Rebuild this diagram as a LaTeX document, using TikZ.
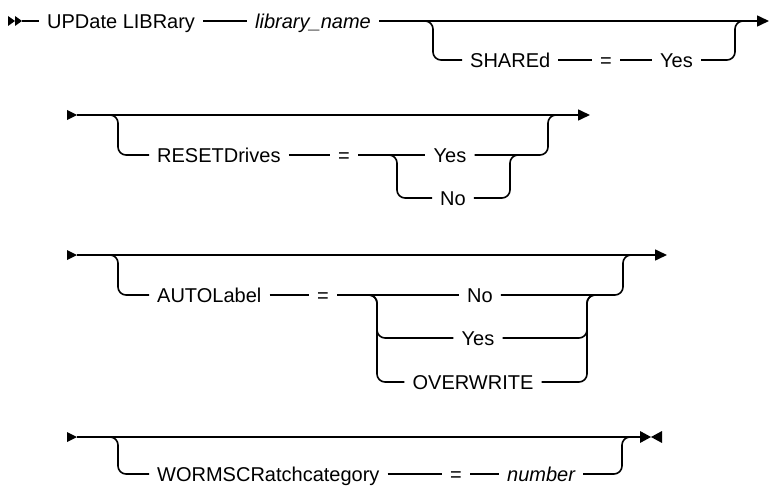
\documentclass[tikz,border=0pt]{standalone}
\usepackage{fontspec}
\setmainfont{Liberation Sans}
\usepackage{xcolor}
\usetikzlibrary{arrows.meta, positioning, calc}

\tikzset{
  kw/.style={font=\fontsize{20}{24}\selectfont, inner xsep=8pt, inner ysep=0pt,
             text height=14.5pt, text depth=0pt, anchor=west},
  var/.style={kw, font=\fontsize{20}{24}\selectfont\itshape},
  rail/.style={line width=1.6pt, rounded corners=8pt},
  cont/.style={-{Triangle[length=12pt,width=11pt]}}
}

\begin{document}
\begin{tikzpicture}[x=1pt, y=-1pt]
  \useasboundingbox (0,0) rectangle (769,487);

  % --- Row 1: UPDate LIBRary ---
  \fill (8,16) -- (15,21) -- (8,26) -- cycle;
  \fill (15,16) -- (22,21) -- (15,26) -- cycle;
  \coordinate (st1) at (22,21);
  \node[kw]  (upd)    at (39,21)  {UPDate LIBRary};
  \node[var] (lib)    at (247,21) {library\_name};
  \node[kw]  (shared) at (462,60) {SHAREd};
  \node[kw]  (eq1)    at (592,60) {=};
  \node[kw]  (yes1)   at (652,60) {Yes};
  \coordinate (b1)   at (423,21);
  \coordinate (r1)   at (735,21);
  \coordinate (end1) at (769,21);
  \draw[rail] (st1) -- (upd.west);
  \draw[rail] (upd.east) -- (lib.west);
  \draw[rail, cont] (lib.east) -- (end1);
  \draw[rail] (b1) -- ++(10,0) |- (shared.west);
  \draw[rail] (shared.east) -- (eq1.west);
  \draw[rail] (eq1.east) -- (yes1.west);
  \draw[rail] (yes1.east) -| (r1) -- ++(10,0);

  % --- Row 2: RESETDrives ---
  \fill (67,110) -- (77,115) -- (67,120) -- cycle;
  \coordinate (st2)  at (77,115);
  \coordinate (end2) at (590,115);
  \node[kw] (reset) at (149,155) {RESETDrives};
  \node[kw] (eq2)   at (330,155) {=};
  \node[kw, anchor=center] (yes2) at (450,155) {Yes};
  \node[kw, anchor=center] (no2)  at (453,198) {No};
  \coordinate (b2)  at (108,115);
  \coordinate (b2a) at (387,155);
  \coordinate (r2a) at (510,155);
  \coordinate (r2)  at (548,115);
  \draw[rail, cont] (st2) -- (end2);
  \draw[rail] (b2) -- ++(10,0) |- (reset.west);
  \draw[rail] (reset.east) -- (eq2.west);
  \draw[rail] (eq2.east) -- (yes2.west);
  \draw[rail] (b2a) -- ++(10,0) |- (no2.west);
  \draw[rail] (no2.east) -| (r2a) -- ++(10,0);
  \draw[rail] (yes2.east) -| (r2) -- ++(10,0);

  % --- Row 3: AUTOLabel ---
  \fill (67,250) -- (77,255) -- (67,260) -- cycle;
  \coordinate (st3)  at (77,255);
  \coordinate (end3) at (667,255);
  \node[kw] (auto) at (149,295) {AUTOLabel};
  \node[kw] (eq3)  at (309,295) {=};
  \node[kw, anchor=center] (no3)   at (480,295) {No};
  \node[kw, anchor=center] (yes3)  at (478,338) {Yes};
  \node[kw, anchor=center] (over3) at (473,382) {OVERWRITE};
  \coordinate (b3)  at (108,255);
  \coordinate (b3a) at (367,295);
  \coordinate (r3a) at (587,295);
  \coordinate (r3)  at (623,255);
  \draw[rail, cont] (st3) -- (end3);
  \draw[rail] (b3) -- ++(10,0) |- (auto.west);
  \draw[rail] (auto.east) -- (eq3.west);
  \draw[rail] (eq3.east) -- (no3.west);
  \draw[rail] (b3a) -- ++(10,0) |- (yes3.west);
  \draw[rail] (b3a) -- ++(10,0) |- (over3.west);
  \draw[rail] (yes3.east) -| (r3a) -- ++(10,0);
  \draw[rail] (over3.east) -| (r3a) -- ++(10,0);
  \draw[rail] (no3.east) -| (r3) -- ++(10,0);

  % --- Row 4: WORMSCRatchcategory ---
  \fill (67,432) -- (77,437) -- (67,442) -- cycle;
  \coordinate (st4)  at (77,437);
  \coordinate (end4) at (640,437);
  \node[kw]  (worm) at (149,474) {WORMSCRatchcategory};
  \node[kw]  (eq4)  at (442,474) {=};
  \node[var] (num)  at (499,474) {number};
  \coordinate (b4) at (108,437);
  \coordinate (r4) at (622,437);
  \draw[rail] (st4) -- (end4);
  \fill (640,431) -- (651,437) -- (640,443) -- cycle;
  \fill (662,431) -- (651,437) -- (662,443) -- cycle;
  \draw[rail] (b4) -- ++(10,0) |- (worm.west);
  \draw[rail] (worm.east) -- (eq4.west);
  \draw[rail] (eq4.east) -- (num.west);
  \draw[rail] (num.east) -| (r4) -- ++(10,0);
\end{tikzpicture}
\end{document}
